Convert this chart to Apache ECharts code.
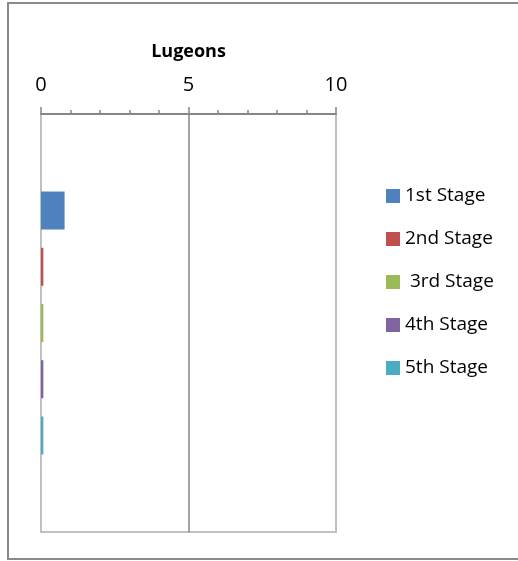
<!DOCTYPE html>
<html>
<head>
<meta charset="utf-8">
<script src="https://cdn.jsdelivr.net/npm/echarts@6/dist/echarts.min.js"></script>
<style>
  html, body { margin: 0; padding: 0; background: #fff; }
  #chart { width: 518px; height: 561px; }
</style>
</head>
<body>
<div id="chart"></div>
<script>
// Injection stages and their Lugeon values
const stageNames = ['1st Stage', '2nd Stage', ' 3rd Stage', '4th Stage', '5th Stage'];
const lugeonValues = [0.8, 0.08, 0.08, 0.08, 0.08];
const stageColors = ['#4F81BD', '#C0504D', '#9BBB59', '#8064A2', '#4BACC6'];
const categories = [''];
const xMin = 0, xMax = 10, xInterval = 5;

const FONT = '"Open Sans", Lato, sans-serif';

const series = stageNames.map((name, i) => ({
  name: name,
  type: 'bar',
  data: [lugeonValues[i]],
  barWidth: 38,
  barGap: '48%',
  itemStyle: { color: stageColors[i] }
}));

const chart = echarts.init(document.getElementById('chart'), null, { renderer: 'canvas' });
chart.setOption({
  animation: false,
  backgroundColor: '#fff',
  graphic: [{
    type: 'rect',
    shape: { x: 8, y: 3, width: 600, height: 556 },
    style: { fill: 'none', stroke: '#8a8a8a', lineWidth: 2 },
    z: 0
  }],
  grid: {
    left: 41, top: 114, width: 295, height: 418,
    show: true, borderColor: '#c0c0c0', borderWidth: 2, backgroundColor: 'transparent'
  },
  legend: {
    orient: 'vertical',
    left: 386, top: 185,
    padding: 0,
    icon: 'rect',
    itemWidth: 14, itemHeight: 14,
    itemGap: 21,
    textStyle: { fontFamily: FONT, fontSize: 19, color: '#000', lineHeight: 22 },
    data: stageNames
  },
  xAxis: {
    type: 'value',
    position: 'top',
    min: xMin, max: xMax, interval: xInterval,
    name: 'Lugeons',
    nameLocation: 'middle',
    nameGap: 53,
    nameTextStyle: { fontFamily: FONT, fontSize: 18, fontWeight: 'bold', color: '#000' },
    axisLine: { show: true, lineStyle: { color: '#868686', width: 2 } },
    axisTick: { show: true, length: 7, lineStyle: { color: '#868686', width: 1.5 } },
    minorTick: { show: true, splitNumber: 5, length: 4, lineStyle: { color: '#868686', width: 1.5 } },
    axisLabel: { fontFamily: FONT, fontSize: 20, color: '#000', margin: 19 },
    splitLine: { show: true, lineStyle: { color: ['#c0c0c0', '#868686', '#c0c0c0'], width: 1.5 } }
  },
  yAxis: {
    type: 'category',
    data: categories,
    inverse: true,
    axisLine: { show: false },
    axisTick: { show: false },
    axisLabel: { show: false },
    splitLine: { show: false }
  },
  series: series
});
</script>
</body>
</html>
